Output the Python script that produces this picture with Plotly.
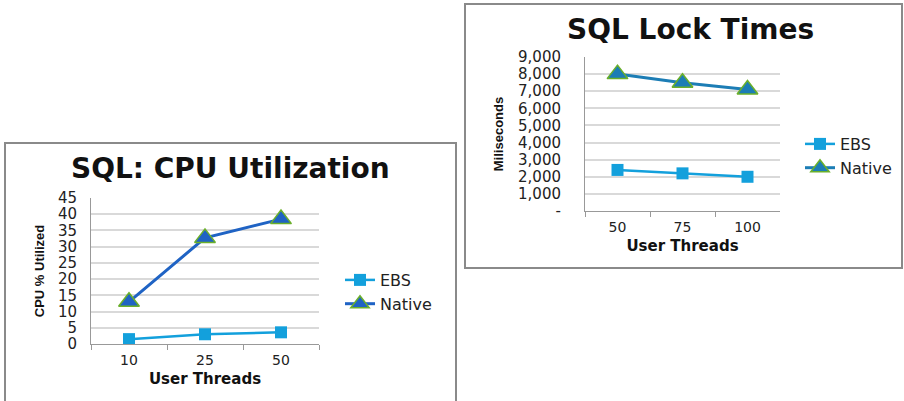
import plotly.graph_objects as go

W, H = 904, 401

# Left chart data
cpu_threads = ["10", "25", "50"]
cpu_ebs = [1.5, 3.0, 3.6]
cpu_native = [13.0, 32.7, 38.5]
cpu_yticks = [0, 5, 10, 15, 20, 25, 30, 35, 40, 45]

# Right chart data
lock_threads = ["50", "75", "100"]
lock_ebs = [2400, 2200, 2000]
lock_native = [8000, 7500, 7100]
lock_yticks = [0, 1000, 2000, 3000, 4000, 5000, 6000, 7000, 8000, 9000]
lock_yticktext = ["-", "1,000", "2,000", "3,000", "4,000", "5,000", "6,000", "7,000", "8,000", "9,000"]

EBS_C = "#13A0DC"
NAT_L = "#1F63C4"
NAT_R = "#1C7DB5"
GREEN = "#6BB02A"
WIDE = "DejaVu Sans, Verdana, sans-serif"
NARROW = "Liberation Sans, Arial, sans-serif"

def px(x):
    return x / W

def py(y):
    return 1 - y / H

fig = go.Figure()

# Left chart traces
fig.add_trace(go.Scatter(x=cpu_threads, y=cpu_ebs, name="EBS", mode="lines+markers",
                         line=dict(color=EBS_C, width=2.5),
                         marker=dict(symbol="square", size=12, color=EBS_C),
                         xaxis="x", yaxis="y", legend="legend"))
fig.add_trace(go.Scatter(x=cpu_threads, y=cpu_native, name="Native", mode="lines+markers",
                         line=dict(color=NAT_L, width=3),
                         marker=dict(symbol="triangle-up", size=18, color=NAT_L,
                                     line=dict(color=GREEN, width=1.5)),
                         xaxis="x", yaxis="y", legend="legend"))

# Right chart traces
fig.add_trace(go.Scatter(x=lock_threads, y=lock_ebs, name="EBS", mode="lines+markers",
                         line=dict(color=EBS_C, width=2.5),
                         marker=dict(symbol="square", size=12, color=EBS_C),
                         xaxis="x2", yaxis="y2", legend="legend2"))
fig.add_trace(go.Scatter(x=lock_threads, y=lock_native, name="Native", mode="lines+markers",
                         line=dict(color=NAT_R, width=3),
                         marker=dict(symbol="triangle-up", size=18, color=NAT_R,
                                     line=dict(color=GREEN, width=1.5)),
                         xaxis="x2", yaxis="y2", legend="legend2"))

tickfont = dict(family=WIDE, size=14, color="#222222")
ytickfont = dict(family=WIDE, size=15, color="#222222")
titlefont = dict(family=WIDE, size=15, color="#111111")
ytitlefont = dict(family=NARROW, size=13, color="#111111")

common_x = dict(type="category", tickson="boundaries", ticks="outside", ticklen=5,
                tickcolor="#999999", showline=True, linecolor="#999999", linewidth=1,
                showgrid=False, tickfont=tickfont, fixedrange=True, automargin=False,
                ticklabelstandoff=3)
common_y = dict(showgrid=True, gridcolor="#D9D9D9", gridwidth=1.5, showline=True,
                linecolor="#999999", linewidth=1, ticks="", tickfont=ytickfont,
                zeroline=False, fixedrange=True, automargin=False)

fig.update_layout(
    width=W, height=H,
    margin=dict(l=0, r=0, t=0, b=0, autoexpand=False),
    paper_bgcolor="white", plot_bgcolor="white",
    font=dict(family=WIDE),
    showlegend=True,
    xaxis=dict(domain=[px(91), px(319)], anchor="y", range=[-0.5, 2.5],
               title=dict(text="<b>User Threads</b>", font=titlefont, standoff=6),
               **common_x),
    yaxis=dict(domain=[py(344), py(198)], anchor="x", range=[0, 45],
               tickvals=cpu_yticks, ticklabelstandoff=10,
               title=dict(text="<b>CPU % Utilized</b>", font=ytitlefont, standoff=10),
               **common_y),
    xaxis2=dict(domain=[px(585), px(780)], anchor="y2", range=[-0.5, 2.5],
                title=dict(text="<b>User Threads</b>", font=titlefont, standoff=6),
                **common_x),
    yaxis2=dict(domain=[py(211), py(57)], anchor="x2", range=[0, 9000],
                tickvals=lock_yticks, ticktext=lock_yticktext, ticklabelstandoff=20,
                title=dict(text="<b>Miliseconds</b>", font=ytitlefont, standoff=11),
                **common_y),
    legend=dict(x=px(340), y=py(263), xanchor="left", yanchor="top",
                font=dict(family=WIDE, size=16, color="#222222"),
                bgcolor="rgba(0,0,0,0)", tracegroupgap=0, itemwidth=30),
    legend2=dict(x=px(800), y=py(127), xanchor="left", yanchor="top",
                 font=dict(family=WIDE, size=16, color="#222222"),
                 bgcolor="rgba(0,0,0,0)", tracegroupgap=0, itemwidth=30),
    annotations=[
        dict(text="<b>SQL: CPU Utilization</b>", x=px(231), y=py(168), xref="paper", yref="paper",
             showarrow=False, font=dict(family=WIDE, size=28, color="#111111"),
             xanchor="center", yanchor="middle"),
        dict(text="<b>SQL Lock Times</b>", x=px(690), y=py(29), xref="paper", yref="paper",
             showarrow=False, font=dict(family=WIDE, size=28, color="#111111"),
             xanchor="center", yanchor="middle"),
    ],
    shapes=[
        dict(type="rect", xref="paper", yref="paper", x0=px(5), x1=px(456), y0=py(405), y1=py(143),
             line=dict(color="#8A8A8A", width=2), fillcolor="rgba(0,0,0,0)", layer="below"),
        dict(type="rect", xref="paper", yref="paper", x0=px(465), x1=px(902), y0=py(268), y1=py(4),
             line=dict(color="#8A8A8A", width=2), fillcolor="rgba(0,0,0,0)", layer="below"),
    ],
)

fig.write_html("out.html", config={"displayModeBar": False},
               post_script="document.body.style.margin='0';document.body.style.padding='0';document.body.style.overflow='hidden';")
